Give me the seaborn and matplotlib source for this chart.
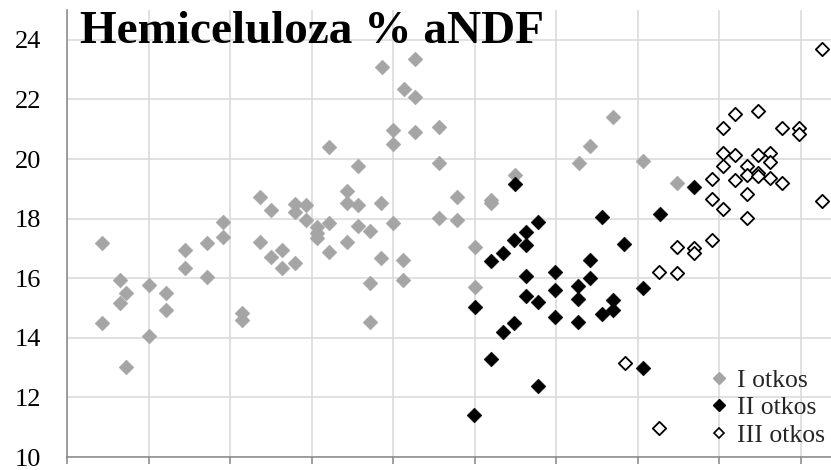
import matplotlib
matplotlib.use("Agg")
import matplotlib.pyplot as plt
import seaborn as sns
import numpy as np
from matplotlib.ticker import MultipleLocator
from matplotlib.lines import Line2D

# ---- data ----
series_names = ["I otkos", "II otkos", "III otkos"]

x_I = [0.43, 0.43, 0.65, 0.65, 0.72, 0.72, 1.00, 1.00, 1.21, 1.21, 1.44, 1.44,
       1.71, 1.71, 1.91, 1.91, 2.14, 2.14, 2.36, 2.36, 2.50, 2.50, 2.64, 2.64,
       2.79, 2.79, 2.79, 2.93, 2.93, 3.06, 3.06, 3.06, 3.21, 3.21, 3.21, 3.43,
       3.43, 3.43, 3.57, 3.57, 3.57, 3.71, 3.71, 3.71, 3.85, 3.85, 3.86, 3.99,
       4.00, 4.00, 4.12, 4.12, 4.13, 4.27, 4.27, 4.27, 4.56, 4.56, 4.56, 4.78,
       4.78, 5.00, 5.00, 5.20, 5.20, 5.49, 6.28, 6.41, 6.70, 7.06, 7.48]
y_I = [17.19, 14.49, 15.94, 15.18, 15.49, 13.03, 15.77, 14.06, 15.51, 14.92, 16.95, 16.33,
       17.17, 16.05, 17.88, 17.37, 14.84, 14.60, 17.22, 18.71, 18.29, 16.70, 16.95, 16.33,
       16.50, 18.49, 18.21, 18.46, 17.95, 17.73, 17.53, 17.34, 17.86, 16.89, 20.41, 18.94,
       18.51, 17.20, 19.77, 18.46, 17.75, 17.60, 15.85, 14.54, 18.51, 16.67, 23.10, 17.86,
       20.97, 20.49, 16.60, 15.94, 22.34, 23.36, 22.07, 20.90, 21.06, 19.88, 18.01, 18.71,
       17.95, 17.06, 15.69, 18.62, 18.51, 19.46, 19.88, 20.44, 21.40, 19.94, 19.18]

x_II = [5.00, 4.99, 5.20, 5.20, 5.34, 5.34, 5.48, 5.48, 5.49, 5.63, 5.63, 5.63, 5.63,
        5.77, 5.77, 5.77, 5.98, 5.98, 5.98, 6.27, 6.27, 6.27, 6.41, 6.41, 6.56, 6.56,
        6.70, 6.70, 6.83, 7.06, 7.06, 7.27, 7.69]
y_II = [15.04, 11.41, 16.58, 13.29, 16.84, 14.19, 17.28, 14.49, 19.16, 17.56, 17.11, 16.07, 15.40,
        17.87, 15.21, 12.38, 16.22, 15.60, 14.69, 15.74, 15.29, 14.54, 16.61, 16.00, 18.04, 14.80,
        15.27, 14.93, 17.15, 15.66, 12.98, 18.15, 19.05]

x_III = [6.84, 7.26, 7.26, 7.48, 7.48, 7.69, 7.69, 7.91, 7.91, 7.91, 8.05, 8.05, 8.05, 8.05,
         8.19, 8.19, 8.19, 8.34, 8.34, 8.34, 8.34, 8.48, 8.48, 8.48, 8.48, 8.62, 8.62, 8.62,
         8.77, 8.77, 8.98, 8.98, 9.26, 9.26]
y_III = [13.14, 16.22, 10.96, 17.06, 16.16, 17.00, 16.84, 17.28, 19.32, 18.65, 21.03, 20.21, 19.77, 18.32,
         21.51, 20.13, 19.30, 19.77, 19.46, 18.81, 18.01, 21.62, 20.13, 19.52, 19.43, 20.21, 19.91, 19.37,
         21.03, 19.21, 21.03, 20.83, 23.68, 18.59]

y_ticks = [10, 12, 14, 16, 18, 20, 22, 24]
y_tick_labels = ["10", "12", "14", "16", "18", "20", "22", "24"]
title_text = "Hemiceluloza % aNDF"

# ---- style ----
sns.set_style("white")
plt.rcParams["font.family"] = ["Liberation Serif", "DejaVu Serif"]
serif = ["Liberation Serif", "DejaVu Serif"]

fig = plt.figure(figsize=(8.31, 4.70), dpi=100)
ax = fig.add_axes([67.3 / 831, 13 / 470, 1 - 67.3 / 831, 447 / 470])

gray = "#a5a5a5"

sns.scatterplot(x=x_I, y=y_I, ax=ax, marker="D", s=58, color=gray,
                edgecolor=gray, linewidth=0.3, zorder=3)
sns.scatterplot(x=x_II, y=y_II, ax=ax, marker="D", s=58, color="black",
                edgecolor="black", linewidth=0.3, zorder=4)
sns.scatterplot(x=x_III, y=y_III, ax=ax, marker="D", s=46, color="white",
                edgecolor="black", linewidth=1.3, zorder=5)

ax.set_xlim(0, 9.37)
ax.set_ylim(10, 25)
ax.set_yticks(y_ticks)
ax.set_yticklabels(y_tick_labels, fontsize=19, fontfamily=serif)
ax.yaxis.set_minor_locator(MultipleLocator(1))
ax.set_xticks(np.arange(0, 10))
ax.set_xticklabels([])
ax.grid(True, which="major", color="#d9d9d9", linewidth=1.1, zorder=0)
ax.set_axisbelow(True)

for s in ["top", "right"]:
    ax.spines[s].set_visible(False)
for s in ["left", "bottom"]:
    ax.spines[s].set_color("#868686")
    ax.spines[s].set_linewidth(1.1)

ax.tick_params(axis="y", which="major", direction="out", length=5, width=1.1,
               color="#868686", pad=14, labelcolor="black")
ax.tick_params(axis="y", which="minor", direction="out", length=4, width=1.1,
               color="#868686")
ax.tick_params(axis="x", which="major", direction="out", length=5, width=1.1,
               color="#868686", bottom=True)

fig.text(80 / 831, 1 - 43 / 470, title_text, fontsize=34, fontweight="bold",
         fontfamily=serif, ha="left", va="baseline", color="black")

handles = [
    Line2D([], [], marker="D", linestyle="none", markersize=6, markerfacecolor=gray,
           markeredgecolor=gray, label=series_names[0]),
    Line2D([], [], marker="D", linestyle="none", markersize=6, markerfacecolor="black",
           markeredgecolor="black", label=series_names[1]),
    Line2D([], [], marker="D", linestyle="none", markersize=5.5, markerfacecolor="white",
           markeredgecolor="black", markeredgewidth=1.2, label=series_names[2]),
]
ax.legend(handles=handles, loc="lower left", bbox_to_anchor=(711 / 831, 23 / 470),
          bbox_transform=fig.transFigure, frameon=False,
          prop={"family": serif, "size": 18.5},
          handlelength=0.6, handletextpad=0.4, labelspacing=0.18,
          borderpad=0, borderaxespad=0)

fig.savefig("out.png", dpi=100)
